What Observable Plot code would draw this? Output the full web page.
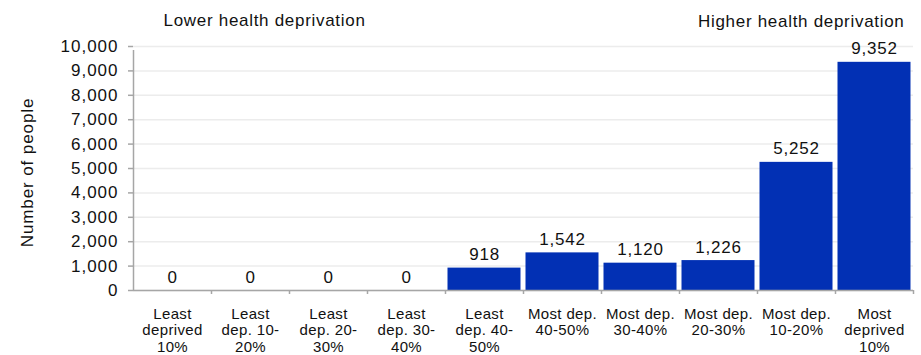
<!DOCTYPE html>
<html>
<head>
<meta charset="utf-8">
<script src="https://cdn.jsdelivr.net/npm/d3@7"></script>
<script src="https://cdn.jsdelivr.net/npm/@observablehq/plot@0.6"></script>
<style>
  html, body { margin: 0; padding: 0; background: #fff; }
  svg { font-family: "Liberation Sans", Arial, sans-serif; }
  g[aria-label="y-axis tick label"] { letter-spacing: 1px; }
  g[aria-label="x-axis tick label"] { letter-spacing: 0.35px; }
  g.vals { letter-spacing: 0.8px; }
  g.titles { letter-spacing: 0.7px; }
  g.ylab { letter-spacing: 0.9px; }
</style>
</head>
<body>
<div id="chart"></div>
<script>
const categories = [
  "Least deprived 10%", "Least dep. 10-20%", "Least dep. 20-30%", "Least dep. 30-40%",
  "Least dep. 40-50%", "Most dep. 40-50%", "Most dep. 30-40%", "Most dep. 20-30%",
  "Most dep. 10-20%", "Most deprived 10%"
];
const tickLabels = [
  "Least\ndeprived\n10%", "Least\ndep. 10-\n20%", "Least\ndep. 20-\n30%", "Least\ndep. 30-\n40%",
  "Least\ndep. 40-\n50%", "Most dep.\n40-50%", "Most dep.\n30-40%", "Most dep.\n20-30%",
  "Most dep.\n10-20%", "Most\ndeprived\n10%"
];
const values = [0, 0, 0, 0, 918, 1542, 1120, 1226, 5252, 9352];
const yTicks = [0, 1000, 2000, 3000, 4000, 5000, 6000, 7000, 8000, 9000, 10000];
const leftTitle = "Lower health deprivation";
const rightTitle = "Higher health deprivation";
const yLabel = "Number of people";

const data = categories.map((c, i) => ({category: c, value: values[i]}));
const labelOf = new Map(categories.map((c, i) => [c, tickLabels[i]]));

const W = 921, H = 355, mL = 133, mR = 8, mT = 46, mB = 65;
const half = (W - mL - mR) / categories.length / 2;
const fmt = d3.format(",");
const axisGray = "#a6a6a6";
const textColor = "#111";

const chart = Plot.plot({
  width: W, height: H,
  marginLeft: mL, marginRight: mR, marginTop: mT, marginBottom: mB,
  style: {fontFamily: '"Liberation Sans", Arial, sans-serif', color: textColor, background: "#fff"},
  x: {type: "band", domain: categories, padding: 0},
  y: {domain: [0, 10000]},
  marks: [
    Plot.ruleY(yTicks, {y: d => d, stroke: "#ececec", strokeWidth: 1.5}),
    Plot.barY(data, {x: "category", y: "value", fill: "#0230b4", insetLeft: 2.5, insetRight: 2.5}),
    Plot.ruleY([0], {stroke: axisGray, strokeWidth: 1.5}),
    // y axis line (left edge of first band)
    Plot.ruleX([categories[0]], {x: d => d, dx: -half, y1: 0, y2: 10000, insetBottom: -4, stroke: axisGray, strokeWidth: 1.5}),
    // boundary ticks on the x axis
    Plot.ruleX(categories, {x: d => d, dx: half, y1: 0, y2: 0, insetBottom: -4, stroke: axisGray, strokeWidth: 1.5}),
    Plot.axisY({ticks: yTicks, tickFormat: fmt, tickSize: 5, tickPadding: 10, fontSize: 17, stroke: axisGray, strokeWidth: 1.5, label: null}),
    Plot.axisX({tickSize: 0, tickPadding: 16, fontSize: 15, lineHeight: 1.13, tickFormat: d => labelOf.get(d), label: null}),
    Plot.text(data, {x: "category", y: "value", text: d => fmt(d.value), lineAnchor: "bottom", dy: -8, fontSize: 17,
      fill: textColor, className: "vals"}),
    Plot.text([leftTitle], {frameAnchor: "top-left", text: d => d, textAnchor: "start", lineAnchor: "bottom", dx: 30, dy: -21,
      fontSize: 17, fill: textColor, className: "titles"}),
    Plot.text([rightTitle], {frameAnchor: "top-right", text: d => d, textAnchor: "end", lineAnchor: "bottom", dx: -9, dy: -20,
      fontSize: 17, fill: textColor, className: "titles"}),
    Plot.text([yLabel], {frameAnchor: "left", text: d => d, rotate: -90, textAnchor: "middle", lineAnchor: "middle",
      dx: -106, dy: 4, fontSize: 17, fill: textColor, className: "ylab"})
  ]
});
document.getElementById("chart").appendChild(chart);
</script>
</body>
</html>
